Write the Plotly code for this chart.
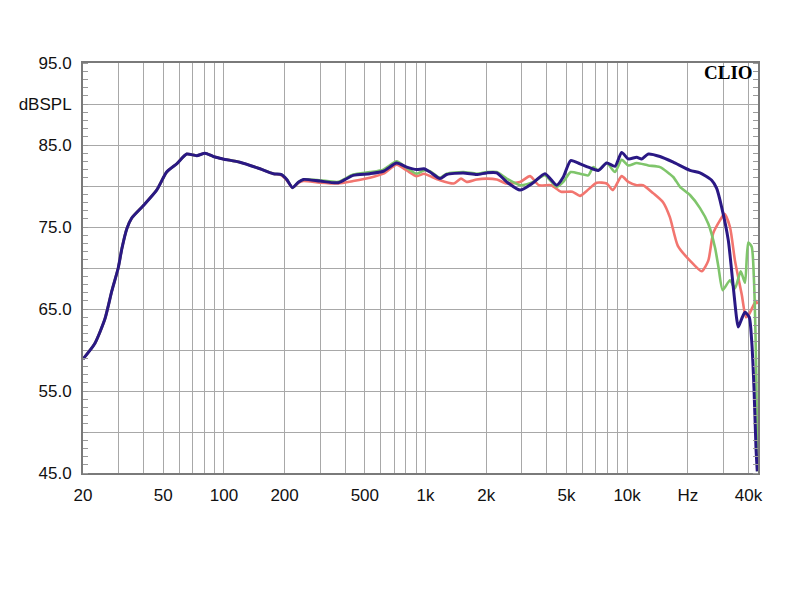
import plotly.graph_objects as go
import numpy as np

# ---- data ----
navy_freq = [20, 22.9, 25.7, 27.8, 29.9, 31.2, 33, 34.9, 39.8, 46.4, 52, 58.3, 65.4, 73.3, 80.6, 88.6, 99,
             120, 151, 176, 193, 205, 219, 235, 248, 300, 369, 438, 530, 618, 719, 807, 904, 983, 1053,
             1180, 1274, 1540, 1795, 2012, 2255, 2528, 2944, 3424, 3914, 4474, 4826, 5250, 5840, 6418,
             7195, 7920, 8710, 9400, 10138, 11158, 11813, 12742, 14560, 16944, 20508, 22992, 26272,
             27820, 29460, 31760, 33620, 34960, 35600, 37020, 38440, 40360, 41500, 42600, 43580, 44240]
navy_db = [58.9, 60.8, 63.8, 67.2, 70.0, 72.4, 74.8, 76.1, 77.6, 79.5, 81.7, 82.7, 83.9, 83.7, 84.0, 83.6, 83.3,
           82.9, 82.1, 81.5, 81.4, 80.8, 79.8, 80.5, 80.8, 80.6, 80.4, 81.3, 81.5, 81.8, 82.8, 82.3, 82.0, 82.1, 81.7,
           80.9, 81.4, 81.6, 81.4, 81.6, 81.6, 80.5, 79.5, 80.4, 81.5, 80.1, 81.1, 83.1, 82.7, 82.3,
           81.9, 82.8, 82.4, 84.1, 83.3, 83.5, 83.3, 83.9, 83.6, 82.9, 81.9, 81.6, 80.7,
           79.7, 77.4, 73.4, 67.7, 63.8, 62.8, 63.8, 64.6, 64.0, 61.1, 55.4, 48.1, 45.2]

green_freq = [20, 22.9, 25.7, 27.8, 29.9, 31.2, 33, 34.9, 39.8, 46.4, 52, 58.3, 65.4, 73.3, 80.6, 88.6, 99,
              120, 151, 176, 193, 205, 219, 235, 248, 300, 369, 438, 530, 618, 719, 807, 904, 983, 1053,
              1180, 1274, 1540, 1795, 2012, 2255, 2528, 2944, 3424, 3914, 4474, 4826, 5250, 5840, 6418,
              6800, 7195, 7920, 8710, 9400, 10138, 11158, 12742, 14560, 16944, 18296, 20508, 22992,
              25280, 27290, 28400, 29800, 32380, 34280, 36600, 38440, 39900, 41500, 42600, 43300, 43800, 44240]
green_db = [58.9, 60.8, 63.8, 67.2, 70.0, 72.4, 74.8, 76.1, 77.6, 79.5, 81.7, 82.7, 83.9, 83.7, 84.0, 83.6, 83.3,
            82.9, 82.1, 81.5, 81.4, 80.8, 79.8, 80.5, 80.8, 80.7, 80.5, 81.4, 81.7, 82.0, 83.0, 82.2, 81.5, 81.9, 81.8,
            81.0, 81.5, 81.7, 81.5, 81.7, 81.7, 80.9, 80.1, 80.5, 81.3, 79.9, 80.5, 81.7, 81.5, 81.3,
            82.3, 81.9, 82.8, 81.7, 83.2, 82.5, 82.8, 82.5, 82.3, 81.1, 79.9, 78.9, 77.3,
            75.4, 72.5, 70.1, 67.3, 68.5, 67.5, 69.6, 68.2, 73.1, 72.6, 68.5, 62.4, 56.0, 45.2]

red_freq = [20, 22.9, 25.7, 27.8, 29.9, 31.2, 33, 34.9, 39.8, 46.4, 52, 58.3, 65.4, 73.3, 80.6, 88.6, 99,
            120, 151, 176, 193, 205, 219, 235, 248, 300, 369, 438, 530, 618, 719, 807, 904, 983, 1053,
            1180, 1380, 1500, 1600, 1795, 2012, 2255, 2528, 2944, 3300, 3650, 4200, 4700, 5350, 5840,
            6300, 7070, 7920, 8500, 9400, 10138, 11158, 12000, 13500, 15100, 16300, 17850, 20500,
            23450, 25280, 26700, 28880, 30400, 32380, 34280, 37020, 38900, 40360, 43580, 44240]
red_db = [58.9, 60.8, 63.8, 67.2, 70.0, 72.4, 74.8, 76.1, 77.6, 79.5, 81.7, 82.7, 83.9, 83.7, 84.0, 83.6, 83.3,
          82.9, 82.1, 81.5, 81.3, 80.7, 79.8, 80.4, 80.6, 80.4, 80.3, 80.6, 81.0, 81.5, 82.6, 81.9, 81.2, 81.5, 81.2,
          80.7, 80.3, 80.9, 80.5, 80.8, 80.9, 80.8, 80.3, 80.5, 81.2, 80.1, 80.1, 79.3, 79.3, 78.8,
          79.4, 80.4, 80.3, 79.5, 81.2, 80.5, 80.1, 80.1, 79.1, 78.0, 76.2, 72.7, 70.9,
          69.6, 70.9, 74.2, 75.8, 76.6, 75.0, 70.9, 66.8, 64.0, 64.4, 66.0, 65.6]

grid_freqs = [20, 30, 40, 50, 60, 70, 80, 90, 100, 200, 300, 400, 500, 600, 700, 800, 900, 1000,
              2000, 3000, 4000, 5000, 6000, 7000, 8000, 9000, 10000, 20000, 30000, 40000]
x_labels = {20: "20", 50: "50", 100: "100", 200: "200", 500: "500", 1000: "1k", 2000: "2k",
            5000: "5k", 10000: "10k", 20000: "Hz", 40000: "40k"}
y_vals = [45, 50, 55, 60, 65, 70, 75, 80, 85, 90, 95]
y_labels = ["45.0", "", "55.0", "", "65.0", "", "75.0", "", "85.0", "dBSPL", "95.0"]

RED = "#f2756f"
GREEN = "#7fc56b"
NAVY = "#2a1884"

fig = go.Figure()
fig.add_trace(go.Scatter(x=red_freq, y=red_db, mode="lines",
                         line=dict(color=RED, width=2.6, shape="spline", smoothing=0.6), showlegend=False))
fig.add_trace(go.Scatter(x=green_freq, y=green_db, mode="lines",
                         line=dict(color=GREEN, width=2.6, shape="spline", smoothing=0.6), showlegend=False))
fig.add_trace(go.Scatter(x=navy_freq, y=navy_db, mode="lines",
                         line=dict(color=NAVY, width=3, shape="spline", smoothing=0.6), showlegend=False))
# invisible trace to carry right-side minor ticks
fig.add_trace(go.Scatter(x=[20], y=[45], yaxis="y2", mode="markers",
                         marker=dict(opacity=0), showlegend=False, hoverinfo="skip"))

FONT = "Liberation Sans, Arial, sans-serif"
fig.update_layout(
    width=800, height=600,
    margin=dict(l=75, r=50, t=55, b=135),
    paper_bgcolor="white", plot_bgcolor="white",
    font=dict(family=FONT, size=17, color="#111"),
    xaxis=dict(type="log", range=[np.log10(20), np.log10(44600)],
               tickmode="array", tickvals=grid_freqs,
               ticktext=[x_labels.get(f, "") for f in grid_freqs],
               showgrid=True, gridcolor="#a8a8a8", gridwidth=1.3,
               showline=True, linecolor="#7a7a7a", linewidth=2, mirror=True,
               ticks="", ticklabelstandoff=6, zeroline=False),
    yaxis=dict(range=[45, 95], tickmode="array", tickvals=y_vals, ticktext=y_labels,
               showgrid=True, gridcolor="#a8a8a8", gridwidth=1.3,
               showline=True, linecolor="#7a7a7a", linewidth=2, mirror=True,
               ticks="", ticklabelstandoff=6, zeroline=False,
               minor=dict(tickmode="linear", tick0=45, dtick=1, ticks="inside",
                          ticklen=5, tickcolor="#9a9a9a", tickwidth=1, showgrid=False)),
    yaxis2=dict(range=[45, 95], overlaying="y", side="right", showgrid=False,
                showticklabels=False, ticks="", zeroline=False,
                minor=dict(tickmode="linear", tick0=45, dtick=1, ticks="inside",
                           ticklen=5, tickcolor="#9a9a9a", tickwidth=1, showgrid=False)),
    annotations=[dict(text="<b>CLIO</b>", xref="paper", yref="paper", x=0.996, y=0.976,
                      xanchor="right", yanchor="middle", showarrow=False,
                      font=dict(family="Liberation Serif, DejaVu Serif, serif", size=19, color="#000"))],
)

fig.write_html("out.html")
